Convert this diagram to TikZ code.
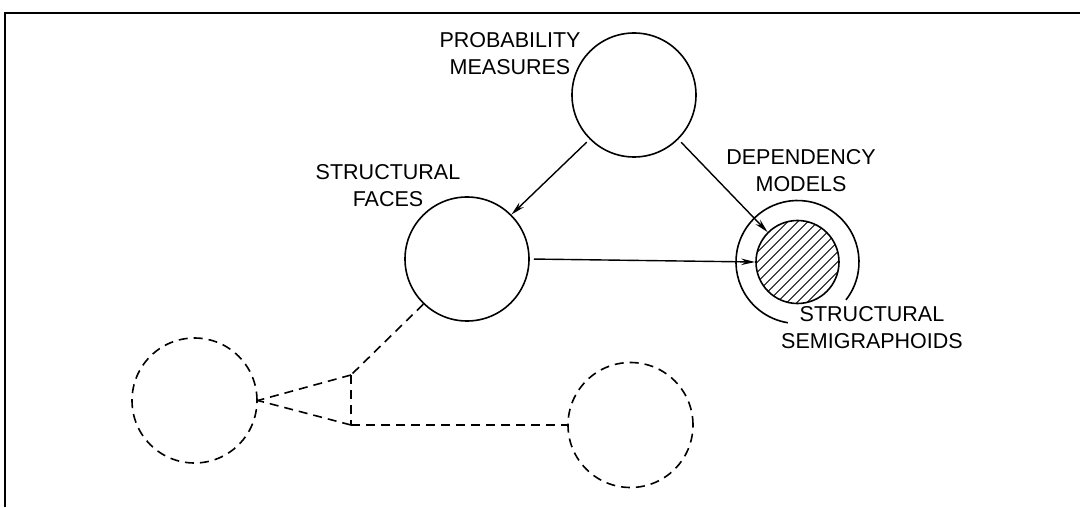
\documentclass[tikz,border=0pt]{standalone}
\usepackage{fontspec}
\setmainfont{Liberation Sans}
\usetikzlibrary{arrows.meta}
\begin{document}
\begin{tikzpicture}[x=1pt,y=1pt,
  ring/.style={circle, draw, line width=1.6pt, minimum size=#1, inner sep=0pt},
  dashring/.style={circle, draw, line width=1.6pt, dash pattern=on 9pt off 6pt, minimum size=125pt, inner sep=0pt},
  dashlink/.style={line width=1.6pt, dash pattern=on 9pt off 6pt},
  arr/.style={line width=1.4pt, -{Stealth[length=14pt,width=6.5pt]}, shorten <=4pt},
  hatch/.style={line width=1pt},
  lbl/.style={align=center, inner sep=0pt, font=\fontsize{21.5}{27}\selectfont}]
\useasboundingbox (0,0) rectangle (1080,507);
% frame
\coordinate (f1) at (5,0);
\coordinate (f2) at (5,494);
\coordinate (f3) at (1080,494);
\draw[line width=1.5pt] (f1) -- (f2) -- (f3);
% circles
\node[ring=124pt] (prob) at (634,412) {};
\node[ring=124pt] (faces) at (467,248) {};
\coordinate (dep) at (797.5,245);
\draw[line width=1.6pt] ([shift={(-38:61.5)}]dep) arc[start angle=-38, end angle=261, radius=61.5];
\begin{scope}
  \clip (dep) circle (41.5);
  \fill[white] (dep) circle (41.5);
  \foreach \i in {-10,...,10} {
    \draw[hatch] ({797.5+\i*10-70},{245-70}) -- ++(140,140);
  }
\end{scope}
\node[ring=83pt] (inner) at (dep) {};
\node[dashring] (lc) at (194.5,106.5) {};
\node[dashring] (rc) at (630.5,82) {};
% labels
\node[lbl] (problbl) at (510,453) {PROBABILITY\\MEASURES};
\node[lbl] (faceslbl) at (388,321) {STRUCTURAL\\FACES};
\node[lbl] (deplbl) at (801,336) {DEPENDENCY\\MODELS};
\node[lbl] (semilbl) at (872,179) {STRUCTURAL\\SEMIGRAPHOIDS};
% solid arrows
\draw[arr] (prob.225) -- (faces.45);
\draw[arr] (prob.-45) -- (inner.135);
\draw[arr] (faces.east) -- (inner.west);
% dashed links
\coordinate (tt) at (351,132);
\coordinate (bt) at (351,82);
\draw[dashlink] (faces.226) -- (tt);
\draw[dashlink] (tt) -- (lc.east);
\draw[dashlink] (tt) -- (bt);
\draw[dashlink] (bt) -- (lc.east);
\draw[dashlink] (bt) -- (rc.west);
\end{tikzpicture}
\end{document}
